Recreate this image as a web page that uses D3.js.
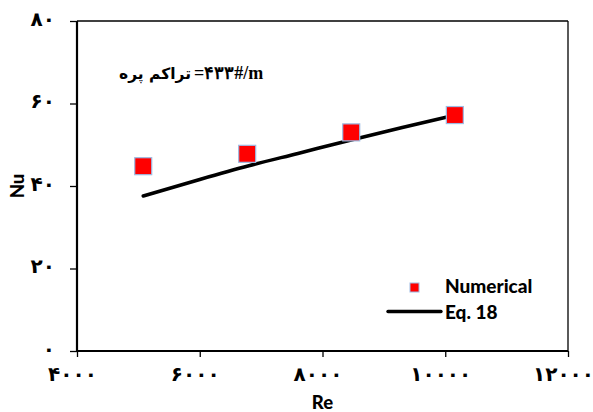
<!DOCTYPE html>
<html>
<head>
<meta charset="utf-8">
<script src="https://cdn.jsdelivr.net/npm/d3@7"></script>
<style>
  html, body { margin: 0; padding: 0; background: #fff; }
  svg { display: block; }
</style>
</head>
<body>
<div id="chart"></div>
<script>
// Nusselt number vs Reynolds number: numerical results and Eq. 18
const numericalRe = [5079, 6773, 8468, 10156];
const numericalNu = [44.8, 47.8, 53.0, 57.2];

const eqRe = [5080, 6000, 6800, 7600, 8450, 9300, 10170];
const eqNu = [37.6, 41.6, 44.9, 47.9, 51.1, 54.2, 57.2];

const xTicks = [4000, 6000, 8000, 10000, 12000];
const yTicks = [0, 20, 40, 60, 80];

const seriesNames = ["Numerical", "Eq. 18"];
const noteLabel = "تراکم پره";
const noteValue = "=۴۳۳#/m";

const W = 593, H = 412;
const margin = { left: 77, top: 21, right: 25, bottom: 61 };
const plotW = W - margin.left - margin.right;
const plotH = H - margin.top - margin.bottom;

// Persian digits for tick labels
const faDigits = "۰۱۲۳۴۵۶۷۸۹";
const toFa = n => String(n).replace(/\d/g, d => faDigits[+d]);

const svg = d3.select("#chart").append("svg")
  .attr("width", W).attr("height", H);

const x = d3.scaleLinear().domain([4000, 12000]).range([margin.left, margin.left + plotW]);
const y = d3.scaleLinear().domain([0, 80]).range([margin.top + plotH, margin.top]);

// Plot frame: thin top/right, heavier left/bottom axes
svg.append("line")
  .attr("x1", x(4000)).attr("x2", x(12000))
  .attr("y1", y(80)).attr("y2", y(80))
  .attr("stroke", "#000").attr("stroke-width", 1.3);
svg.append("line")
  .attr("x1", x(12000)).attr("x2", x(12000))
  .attr("y1", y(80)).attr("y2", y(0))
  .attr("stroke", "#000").attr("stroke-width", 1.3);

const xAxis = d3.axisBottom(x).tickValues(xTicks).tickSize(6).tickFormat(toFa);
const yAxis = d3.axisLeft(y).tickValues(yTicks).tickSize(7).tickFormat(toFa);

const gx = svg.append("g").attr("transform", `translate(0,${y(0)})`).call(xAxis);
const gy = svg.append("g").attr("transform", `translate(${x(4000)},0)`).call(yAxis);

[gx, gy].forEach(g => {
  g.select(".domain").attr("stroke", "#000").attr("stroke-width", 2.2);
  g.selectAll(".tick line").attr("stroke", "#000").attr("stroke-width", 1.3);
  g.selectAll(".tick text")
    .attr("fill", "#000")
    .style("font-family", "'DejaVu Sans', sans-serif")
    .style("font-weight", "bold")
    .style("font-size", "20px");
});
gx.select(".domain").attr("d", `M${x(4000)},0H${x(12000)}`);
gy.select(".domain").attr("d", `M0,${y(0)}V${y(80)}`);
gx.selectAll(".tick text").attr("y", 24).attr("dy", "0.32em").attr("dx", -5);
gy.selectAll(".tick text").attr("x", -22).attr("dy", "0.2em");

// Axis titles
svg.append("text")
  .attr("x", x(8000)).attr("y", 409)
  .attr("text-anchor", "middle")
  .style("font-family", "Lato, sans-serif").style("font-weight", "900").style("font-size", "18.5px")
  .text("Re");
svg.append("text")
  .attr("transform", `translate(24,${y(40)}) rotate(-90)`)
  .attr("text-anchor", "middle")
  .style("font-family", "Lato, sans-serif").style("font-weight", "900").style("font-size", "18.5px")
  .text("Nu");

// Eq. 18 curve
const eqData = eqRe.map((r, i) => ({ re: r, nu: eqNu[i] }));
const line = d3.line().x(d => x(d.re)).y(d => y(d.nu)).curve(d3.curveMonotoneX);
svg.append("path")
  .datum(eqData)
  .attr("d", line)
  .attr("fill", "none")
  .attr("stroke", "#000")
  .attr("stroke-width", 3.6)
  .attr("stroke-linecap", "round");

// Numerical points
const numData = numericalRe.map((r, i) => ({ re: r, nu: numericalNu[i] }));
const sq = 17;
svg.append("g").selectAll("rect")
  .data(numData)
  .join("rect")
  .attr("x", d => x(d.re) - sq / 2)
  .attr("y", d => y(d.nu) - sq / 2)
  .attr("width", sq).attr("height", sq)
  .attr("fill", "#ff0000")
  .attr("stroke", "#9dbbe3")
  .attr("stroke-width", 1.2);

// Annotation: fin density
svg.append("text")
  .attr("x", 191).attr("y", 79)
  .attr("text-anchor", "end")
  .style("font-family", "'DejaVu Sans', sans-serif").style("font-weight", "bold").style("font-size", "15.5px")
  .text(noteLabel);
svg.append("text")
  .attr("x", 194).attr("y", 79)
  .attr("text-anchor", "start")
  .style("font-family", "'Liberation Serif', serif").style("font-weight", "bold").style("font-size", "18px")
  .text(noteValue);

// Legend
const legend = svg.append("g");
legend.append("rect")
  .attr("x", 410).attr("y", 283).attr("width", 9).attr("height", 9)
  .attr("fill", "#ff0000").attr("stroke", "#9dbbe3").attr("stroke-width", 1);
legend.append("line")
  .attr("x1", 388).attr("x2", 441).attr("y1", 311.5).attr("y2", 311.5)
  .attr("stroke", "#000").attr("stroke-width", 3.4).attr("stroke-linecap", "round");
legend.selectAll("text.lg")
  .data(seriesNames)
  .join("text")
  .attr("class", "lg")
  .attr("x", 445).attr("y", (d, i) => 293 + i * 25.5)
  .style("font-family", "Lato, sans-serif").style("font-weight", "900").style("font-size", "19px")
  .text(d => d);
</script>
</body>
</html>
